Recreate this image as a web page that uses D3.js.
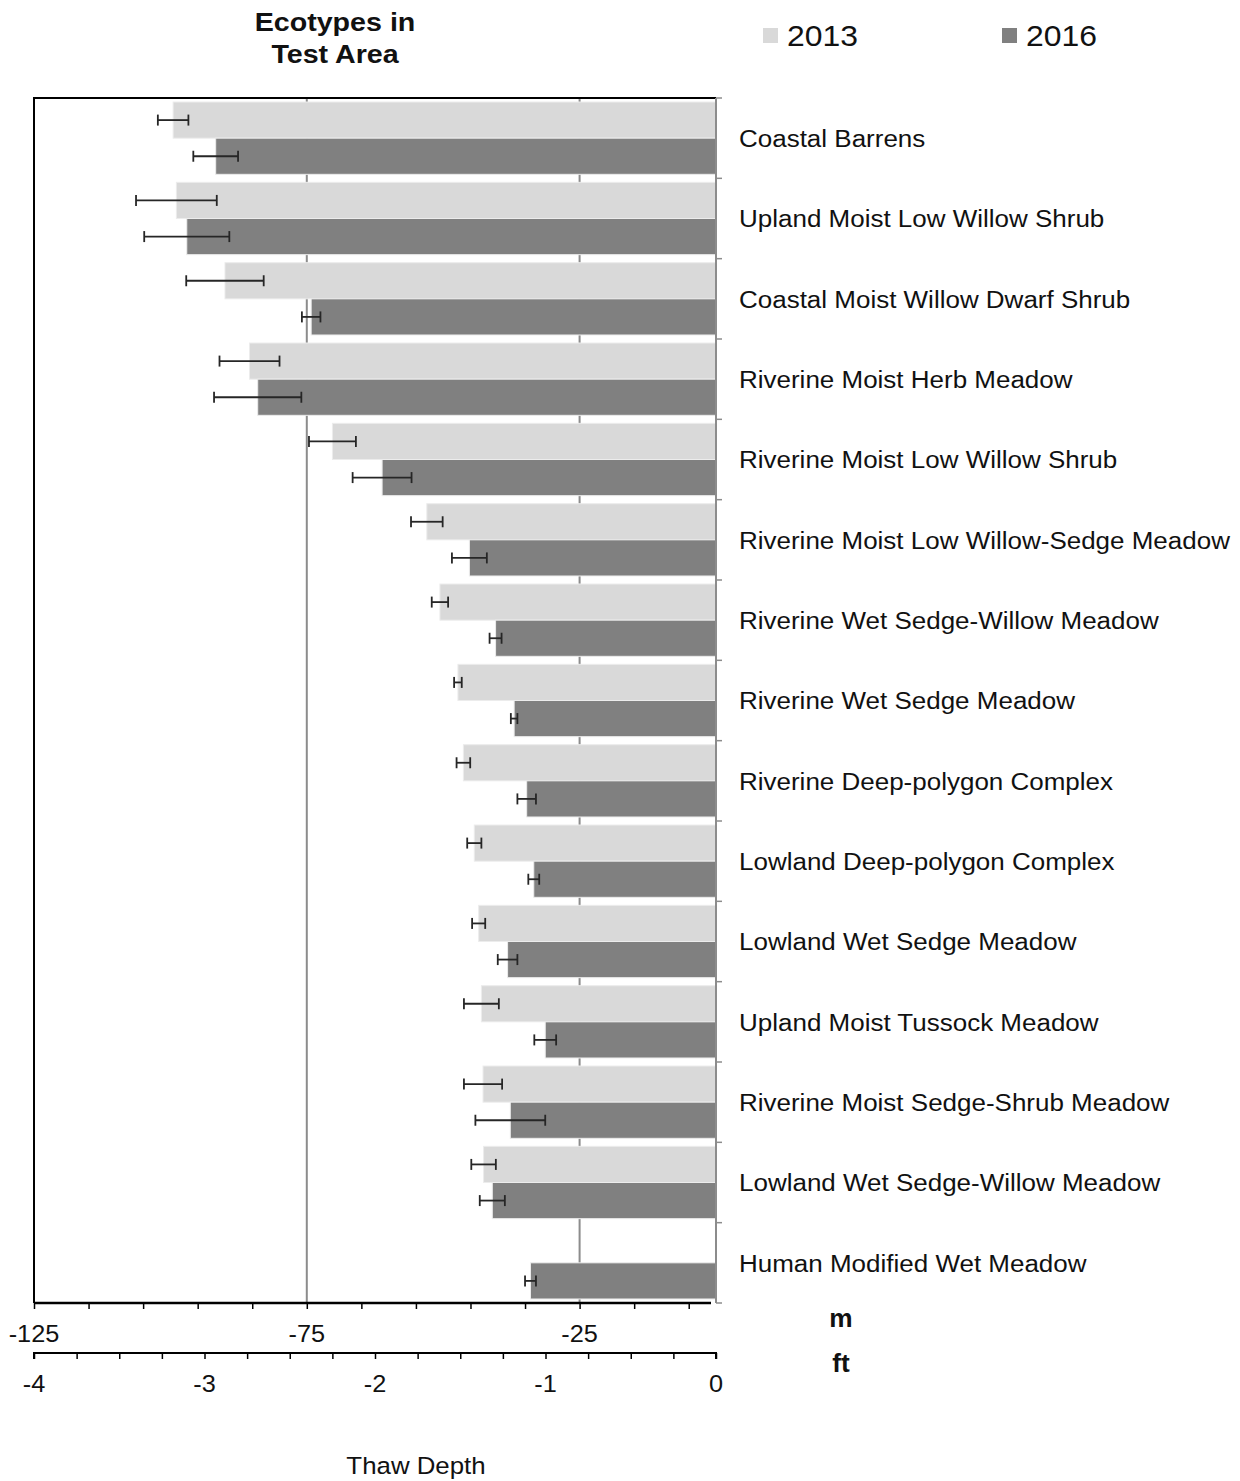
<!DOCTYPE html>
<html>
<head>
<meta charset="utf-8">
<script src="https://cdn.jsdelivr.net/npm/d3@7"></script>
<style>
  html, body { margin: 0; padding: 0; background: #fff; }
  text { font-family: "Liberation Sans", Arial, sans-serif; fill: #111; }
</style>
</head>
<body>
<svg id="chart" width="1240" height="1481"></svg>
<script>
// Ecotypes, top to bottom
const categories = [
  "Coastal Barrens",
  "Upland Moist Low Willow Shrub",
  "Coastal Moist Willow Dwarf Shrub",
  "Riverine Moist Herb Meadow",
  "Riverine Moist Low Willow Shrub",
  "Riverine Moist Low Willow-Sedge Meadow",
  "Riverine Wet Sedge-Willow Meadow",
  "Riverine Wet Sedge Meadow",
  "Riverine Deep-polygon Complex",
  "Lowland Deep-polygon Complex",
  "Lowland Wet Sedge Meadow",
  "Upland Moist Tussock Meadow",
  "Riverine Moist Sedge-Shrub Meadow",
  "Lowland Wet Sedge-Willow Meadow",
  "Human Modified Wet Meadow"
];
const years = ["2013", "2016"];

// Mean thaw depth (cm, negative = below surface); null = not sampled
const depth2013 = [-99.5, -98.9, -90.0, -85.5, -70.3, -53.0, -50.6, -47.3, -46.3, -44.3, -43.5, -43.0, -42.7, -42.6, null];
const depth2016 = [-91.7, -97.0, -74.2, -84.0, -61.2, -45.2, -40.4, -37.0, -34.7, -33.4, -38.2, -31.3, -37.7, -41.0, -34.0];
// Standard error of the mean (cm)
const err2013 = [2.8, 7.4, 7.1, 5.5, 4.3, 2.9, 1.5, 0.7, 1.25, 1.3, 1.2, 3.2, 3.5, 2.25, null];
const err2016 = [4.1, 7.8, 1.7, 8.0, 5.4, 3.2, 1.1, 0.6, 1.7, 1.0, 1.8, 2.0, 6.4, 2.3, 1.0];

const cmTicks = [-125, -75, -25];
const ftTicks = [-4, -3, -2, -1, 0];

const colors = { "2013": "#d9d9d9", "2016": "#808080" };

const svg = d3.select("#chart");
const plotLeft = 34, plotRight = 716, plotTop = 98, plotBottom = 1303;

const x = d3.scaleLinear().domain([-125, 0]).range([plotLeft, plotRight]);
const xFt = d3.scaleLinear().domain([-4, 0]).range([plotLeft, plotRight]);
const y = d3.scaleBand().domain(categories).range([plotTop, plotBottom]).paddingInner(0.1).paddingOuter(0.05);
const yYear = d3.scaleBand().domain(years).range([0, y.bandwidth()]);

const rows = [];
categories.forEach((c, i) => {
  rows.push({ cat: c, year: "2013", v: depth2013[i], e: err2013[i] });
  rows.push({ cat: c, year: "2016", v: depth2016[i], e: err2016[i] });
});
const present = rows.filter(d => d.v !== null);

// text with horizontal stretch
function label(g, txt, px, py, size, opts = {}) {
  const sx = opts.sx || 1.12;
  const t = g.append("text")
    .attr("transform", `translate(${px},${py}) scale(${sx},1)`)
    .attr("font-size", size)
    .attr("text-anchor", opts.anchor || "start")
    .attr("dominant-baseline", "central")
    .text(txt);
  if (opts.bold) t.attr("font-weight", "bold");
  return t;
}

// gridlines at labelled depths (behind bars)
svg.append("g").selectAll("line").data([-75, -25]).join("line")
  .attr("x1", d => x(d)).attr("x2", d => x(d))
  .attr("y1", plotTop).attr("y2", plotBottom)
  .attr("stroke", "#8c8c8c").attr("stroke-width", 2);

// bars
svg.append("g").selectAll("rect").data(present).join("rect")
  .attr("x", d => x(d.v))
  .attr("width", d => x(0) - x(d.v))
  .attr("y", d => y(d.cat) + yYear(d.year))
  .attr("height", yYear.bandwidth())
  .attr("fill", d => colors[d.year])
  .attr("stroke", "#ececec").attr("stroke-width", 1);

// error bars
const eb = svg.append("g").attr("stroke", "#262626").attr("stroke-width", 1.8);
present.filter(d => d.e !== null).forEach(d => {
  const cy = y(d.cat) + yYear(d.year) + yYear.bandwidth() / 2;
  const x0 = x(d.v - d.e), x1 = x(d.v + d.e);
  eb.append("line").attr("x1", x0).attr("x2", x1).attr("y1", cy).attr("y2", cy);
  eb.append("line").attr("x1", x0).attr("x2", x0).attr("y1", cy - 5.5).attr("y2", cy + 5.5);
  eb.append("line").attr("x1", x1).attr("x2", x1).attr("y1", cy - 5.5).attr("y2", cy + 5.5);
});

// frame: left and top
svg.append("line").attr("x1", plotLeft).attr("x2", plotLeft).attr("y1", plotTop - 1).attr("y2", plotBottom)
  .attr("stroke", "#000").attr("stroke-width", 2);
svg.append("line").attr("x1", plotLeft).attr("x2", plotRight).attr("y1", plotTop).attr("y2", plotTop)
  .attr("stroke", "#000").attr("stroke-width", 2);

// right category axis with boundary ticks
svg.append("line").attr("x1", plotRight).attr("x2", plotRight).attr("y1", plotTop).attr("y2", plotBottom)
  .attr("stroke", "#8c8c8c").attr("stroke-width", 2);
const bounds = d3.range(categories.length + 1).map(i => plotTop + i * y.step());
svg.append("g").selectAll("line").data(bounds).join("line")
  .attr("x1", plotRight).attr("x2", plotRight + 6)
  .attr("y1", d => d).attr("y2", d => d)
  .attr("stroke", "#8c8c8c").attr("stroke-width", 1.5);

// category labels
const catG = svg.append("g");
categories.forEach(c => label(catG, c, 739, y(c) + y.bandwidth() / 2 + 1, 23, { sx: 1.13 }));

// depth axis (cm)
const axCm = svg.append("g").attr("transform", `translate(0,${plotBottom})`)
  .call(d3.axisBottom(x).tickValues(d3.range(-125, 0, 10)).tickSize(6).tickFormat(""));
axCm.select(".domain").attr("stroke", "#000").attr("stroke-width", 2.5)
  .attr("d", `M${plotLeft},0H${plotRight - 5}`);
axCm.selectAll(".tick line").attr("stroke", "#000").attr("stroke-width", 1.5);
const cmLab = svg.append("g");
cmTicks.forEach(t => label(cmLab, String(t), x(t), 1334, 23, { anchor: "middle", sx: 1.1 }));

// depth axis (ft)
const ftY = 1353;
const axFt = svg.append("g").attr("transform", `translate(0,${ftY})`)
  .call(d3.axisBottom(xFt).tickValues(d3.range(-4, 0.001, 0.25)).tickSize(6).tickFormat(""));
axFt.select(".domain").attr("stroke", "#000").attr("stroke-width", 2)
  .attr("d", `M${plotLeft},6V0H${plotRight}V6`);
axFt.selectAll(".tick line").attr("stroke", "#000").attr("stroke-width", 1.5);
const ftLab = svg.append("g");
ftTicks.forEach(t => label(ftLab, String(t), xFt(t), 1384, 23, { anchor: "middle", sx: 1.1 }));

// unit labels
label(svg, "m", 841, 1318, 25, { anchor: "middle", bold: true, sx: 1.05 });
label(svg, "ft", 841, 1363, 25, { anchor: "middle", bold: true, sx: 1.05 });

// axis title
label(svg, "Thaw Depth", 416, 1466, 23.5, { anchor: "middle", sx: 1.1 });

// chart title
label(svg, "Ecotypes in", 335, 22, 26.5, { anchor: "middle", bold: true, sx: 1.08 });
label(svg, "Test Area", 335, 54, 26.5, { anchor: "middle", bold: true, sx: 1.08 });

// legend
const legX = { "2013": 763, "2016": 1002 };
years.forEach(yr => {
  svg.append("rect").attr("x", legX[yr]).attr("y", 28).attr("width", 15).attr("height", 15)
    .attr("fill", colors[yr]);
  label(svg, yr, legX[yr] + 24, 36, 29, { sx: 1.1 });
});
</script>
</body>
</html>
